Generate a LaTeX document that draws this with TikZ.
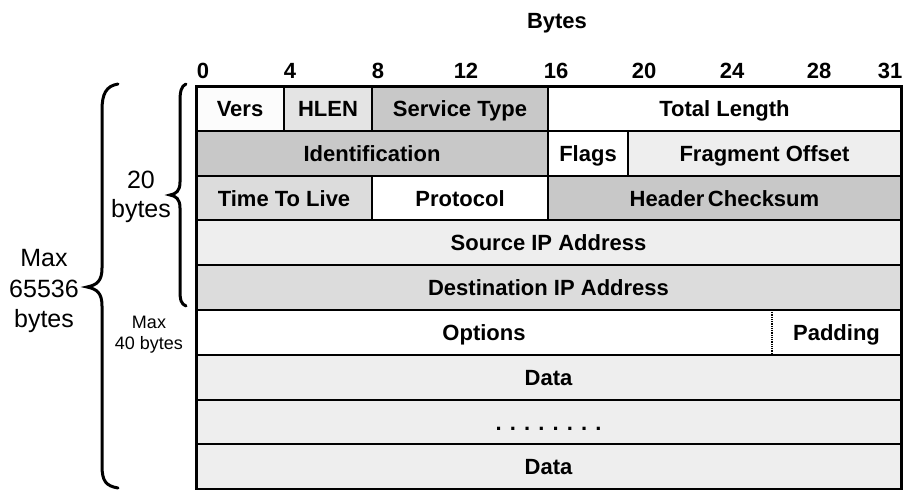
\documentclass[tikz,border=0pt]{standalone}
\usepackage{fontspec}
\setmainfont{Liberation Sans}
\definecolor{cW}{HTML}{FCFCFC}
\definecolor{cL}{HTML}{EEEEEE}
\definecolor{cM}{HTML}{DCDCDC}
\definecolor{cH}{HTML}{E4E4E4}
\definecolor{cD}{HTML}{C8C8C8}
\newcommand\ipcell[6]{%
  \pgfmathsetmacro\ya{86+44.8*#3}%
  \pgfmathsetmacro\yb{\ya+44.8}%
  \pgfmathsetmacro\yc{\ya+22.4+8}%
  \pgfmathsetmacro\xc{(#1+#2)/2}%
  \filldraw[cellbox, fill=#4] (#1,\ya) rectangle (#2,\yb);
  \node[lbl] (#5) at (\xc,\yc) {#6};}
\begin{document}
\begin{tikzpicture}[x=1pt,y=-1pt,
  lbl/.style={font=\fontsize{22}{26}\selectfont\bfseries, anchor=base, inner sep=0pt},
  tick/.style={font=\fontsize{22}{26}\selectfont\bfseries, anchor=base, inner sep=0pt},
  side/.style={font=\fontsize{25}{29}\selectfont, anchor=base, inner sep=0pt},
  small/.style={font=\fontsize{18}{21}\selectfont, anchor=base, inner sep=0pt},
  cellbox/.style={draw=black, line width=2pt},
  bracepath/.style={draw=black, line width=3pt, line cap=round}]
\useasboundingbox (0,0) rectangle (906,490);
% heading and bit numbers
\node[tick] (bytes) at (557,28) {Bytes};
\node[tick] (t0) at (203,78) {0};
\node[tick] (t4) at (290,78) {4};
\node[tick] (t8) at (378,78) {8};
\node[tick] (t12) at (466,78) {12};
\node[tick] (t16) at (556,78) {16};
\node[tick] (t20) at (644,78) {20};
\node[tick] (t24) at (732,78) {24};
\node[tick] (t28) at (819,78) {28};
\node[tick] (t31) at (890,78) {31};
% row 0
\ipcell{196}{284}{0}{cW}{vers}{Vers}
\ipcell{284}{372}{0}{cH}{hlen}{HLEN}
\ipcell{372}{548}{0}{cD}{tos}{Service Type}
\ipcell{548}{901}{0}{white}{tlen}{Total Length}
% row 1
\ipcell{196}{548}{1}{cD}{ident}{Identification}
\ipcell{548}{628}{1}{white}{flags}{Flags}
\ipcell{628}{901}{1}{cL}{frag}{Fragment Offset}
% row 2
\ipcell{196}{372}{2}{cM}{ttl}{Time To Live}
\ipcell{372}{548}{2}{white}{proto}{Protocol}
\ipcell{548}{901}{2}{cD}{csum}{Header\,Checksum}
% row 3,4
\ipcell{196}{901}{3}{cL}{src}{Source IP Address}
\ipcell{196}{901}{4}{cM}{dst}{Destination IP Address}
% row 5
\filldraw[cellbox, fill=white] (196,310) rectangle (901,354.8);
\draw[line width=1.6pt, dash pattern=on 1pt off 0.8pt] (772,310) -- (772,354.8);
\node[lbl] (opt) at (484,340.4) {Options};
\node[lbl] (pad) at (836.5,340.4) {Padding};
% rows 6-8
\ipcell{196}{901}{6}{cL}{data1}{Data}
\ipcell{196}{901}{7}{cL}{dots}{. . . . . . . .}
\ipcell{196}{901}{8}{cL}{data2}{Data}
% outer border
\draw[line width=3pt] (196,86) rectangle (901,489);
% braces
\draw[bracepath] (186,84) .. controls (181,86) and (180,92) .. (180,102) -- (180,182)
  .. controls (180,191) and (176,194) .. (170,195) .. controls (176,196) and (180,199) .. (180,208)
  -- (180,290) .. controls (180,300) and (181,304) .. (186,306);
\draw[bracepath] (118,84) .. controls (106,86) and (102,94) .. (102,110) -- (102,268)
  .. controls (102,281) and (97,285) .. (87,287) .. controls (97,289) and (102,293) .. (102,306)
  -- (102,466) .. controls (102,481) and (106,486) .. (118,488);
% side labels
\node[side] (twenty) at (141,188) {20};
\node[side] (twentyb) at (141,217) {bytes};
\node[side] (maxa) at (44,266) {Max};
\node[side] (maxb) at (44,297) {65536};
\node[side] (maxc) at (44,327) {bytes};
\node[small] (optmax) at (149,328) {Max};
\node[small] (optmaxb) at (149,349) {40 bytes};
\end{tikzpicture}
\end{document}
